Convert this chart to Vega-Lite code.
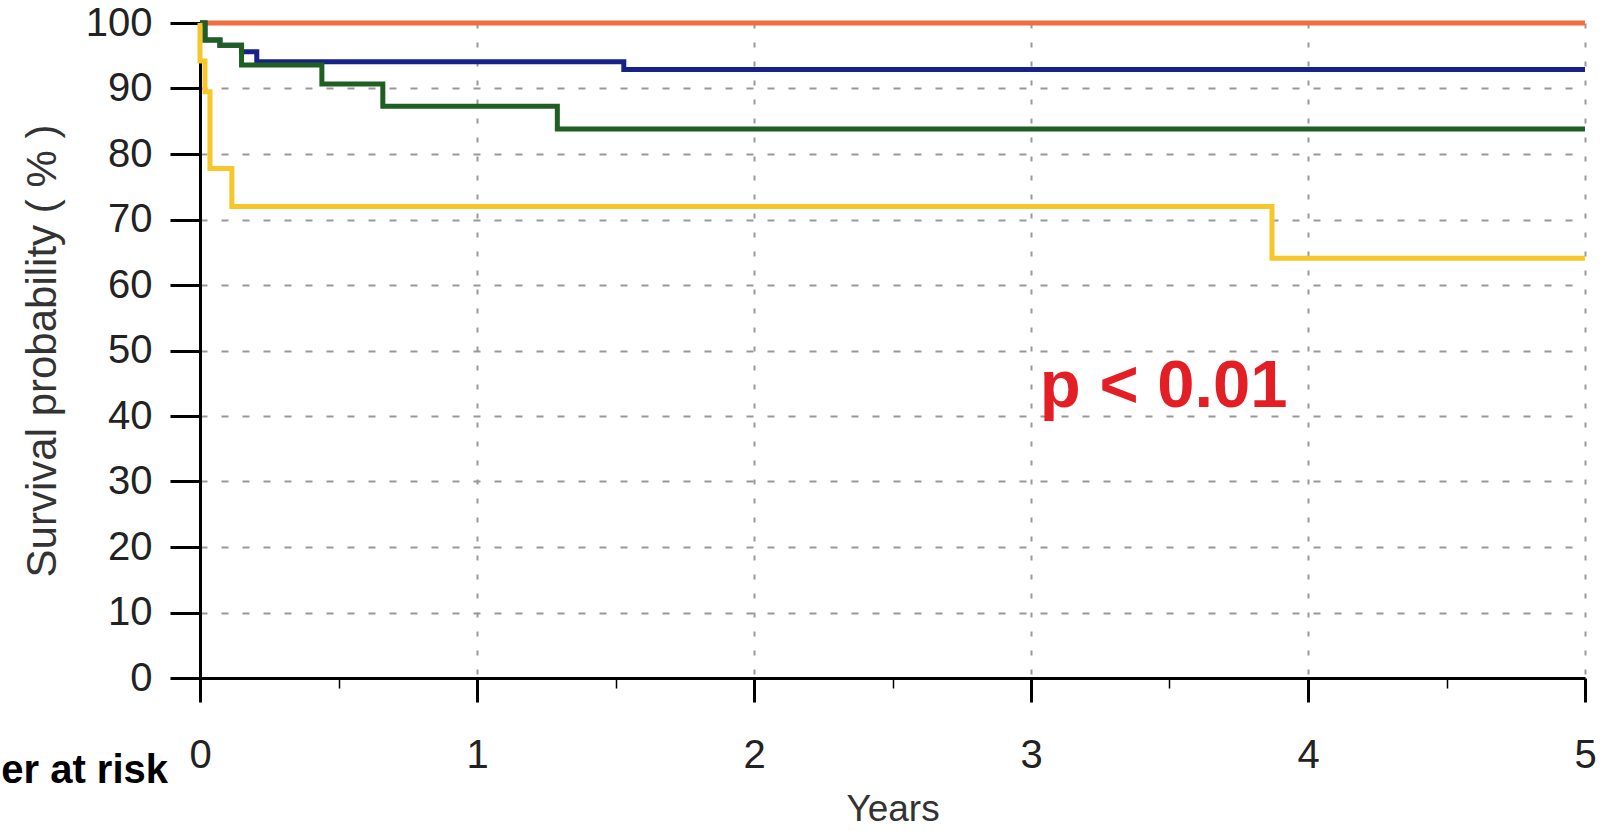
{
  "$schema": "https://vega.github.io/schema/vega-lite/v6.json",
  "width": 1385,
  "height": 655,
  "autosize": {"type": "none"},
  "padding": {"left": 200, "top": 23, "right": 22, "bottom": 153},
  "background": "white",
  "config": {"view": {"stroke": null}, "font": "Liberation Sans"},
  "datasets": {
    "curves": [
      {"group": "G1", "years": 0, "survival": 100},
      {"group": "G1", "years": 5, "survival": 100},
      {"group": "G2", "years": 0, "survival": 100},
      {"group": "G2", "years": 0.018, "survival": 97.4},
      {"group": "G2", "years": 0.072, "survival": 96.6},
      {"group": "G2", "years": 0.15, "survival": 95.6},
      {"group": "G2", "years": 0.205, "survival": 94.1},
      {"group": "G2", "years": 1.53, "survival": 92.9},
      {"group": "G2", "years": 5, "survival": 92.9},
      {"group": "G3", "years": 0, "survival": 100},
      {"group": "G3", "years": 0.018, "survival": 97.4},
      {"group": "G3", "years": 0.072, "survival": 96.6},
      {"group": "G3", "years": 0.15, "survival": 93.6},
      {"group": "G3", "years": 0.44, "survival": 90.7},
      {"group": "G3", "years": 0.66, "survival": 87.3},
      {"group": "G3", "years": 1.29, "survival": 83.8},
      {"group": "G3", "years": 5, "survival": 83.8},
      {"group": "G4", "years": 0, "survival": 100},
      {"group": "G4", "years": 0, "survival": 94.2},
      {"group": "G4", "years": 0.018, "survival": 89.5},
      {"group": "G4", "years": 0.036, "survival": 77.8},
      {"group": "G4", "years": 0.115, "survival": 72.0},
      {"group": "G4", "years": 3.87, "survival": 64.1},
      {"group": "G4", "years": 5, "survival": 64.1}
    ]
  },
  "layer": [
    {
      "data": {"name": "curves"},
      "mark": {"type": "line", "interpolate": "step-after", "strokeWidth": 5},
      "encoding": {
        "x": {
          "field": "years", "type": "quantitative",
          "scale": {"domain": [0, 5], "nice": false, "zero": false},
          "axis": {
            "values": [0, 0.5, 1, 1.5, 2, 2.5, 3, 3.5, 4, 4.5, 5],
            "title": "Years", "titleFontSize": 37, "titleFontWeight": "normal",
            "titleColor": "#333", "titlePadding": 16,
            "labelExpr": "datum.value % 1 === 0 ? '' + datum.value : ''",
            "labelFontSize": 40, "labelColor": "#222", "labelPadding": 33,
            "labelFlush": false, "labelOverlap": false, "labelBound": false, "labelAngle": 0,
            "domainColor": "#000", "domainWidth": 3, "tickColor": "#000",
            "tickSize": {"condition": {"test": "datum.value % 1 !== 0", "value": 10}, "value": 24},
            "tickWidth": {"condition": {"test": "datum.value % 1 !== 0", "value": 1.5}, "value": 3},
            "grid": true, "gridColor": "#999", "gridWidth": 2, "gridDash": [5, 14],
            "gridOpacity": {"condition": {"test": "datum.value % 1 !== 0 || datum.value === 0", "value": 0}, "value": 1}
          }
        },
        "y": {
          "field": "survival", "type": "quantitative",
          "scale": {"domain": [0, 100], "nice": false},
          "axis": {
            "values": [0, 10, 20, 30, 40, 50, 60, 70, 80, 90, 100],
            "title": "Survival probability ( % )", "titleFontSize": 42, "titleFontWeight": "normal",
            "titleColor": "#333", "titlePadding": 21,
            "labelFontSize": 40, "labelColor": "#222", "labelPadding": 18, "labelOverlap": false,
            "domainColor": "#000", "domainWidth": 3, "tickColor": "#000", "tickSize": 30, "tickWidth": 3,
            "grid": true, "gridColor": "#999", "gridWidth": 2, "gridDash": [7, 14],
            "gridOpacity": {"condition": {"test": "datum.value === 0 || datum.value === 100", "value": 0}, "value": 1}
          }
        },
        "color": {
          "field": "group", "type": "nominal",
          "scale": {"domain": ["G1", "G2", "G3", "G4"], "range": ["#F26D3D", "#16218A", "#1F5F22", "#F7C62A"]},
          "legend": null
        }
      }
    },
    {
      "data": {"values": [{"label": "p < 0.01", "years": 3.032, "survival": 41.4}]},
      "mark": {"type": "text", "align": "left", "baseline": "alphabetic", "fontSize": 67, "fontWeight": "bold", "color": "#E31E24"},
      "encoding": {
        "x": {"field": "years", "type": "quantitative", "scale": {"domain": [0, 5], "nice": false, "zero": false}},
        "y": {"field": "survival", "type": "quantitative", "scale": {"domain": [0, 100], "nice": false}},
        "text": {"field": "label"}
      }
    },
    {
      "data": {"values": [{"label": "Number at risk", "years": -0.1155, "survival": -16.1}]},
      "mark": {"type": "text", "align": "right", "baseline": "alphabetic", "fontSize": 40, "fontWeight": "bold", "color": "#000"},
      "encoding": {
        "x": {"field": "years", "type": "quantitative", "scale": {"domain": [0, 5], "nice": false, "zero": false}},
        "y": {"field": "survival", "type": "quantitative", "scale": {"domain": [0, 100], "nice": false}},
        "text": {"field": "label"}
      }
    }
  ]
}
